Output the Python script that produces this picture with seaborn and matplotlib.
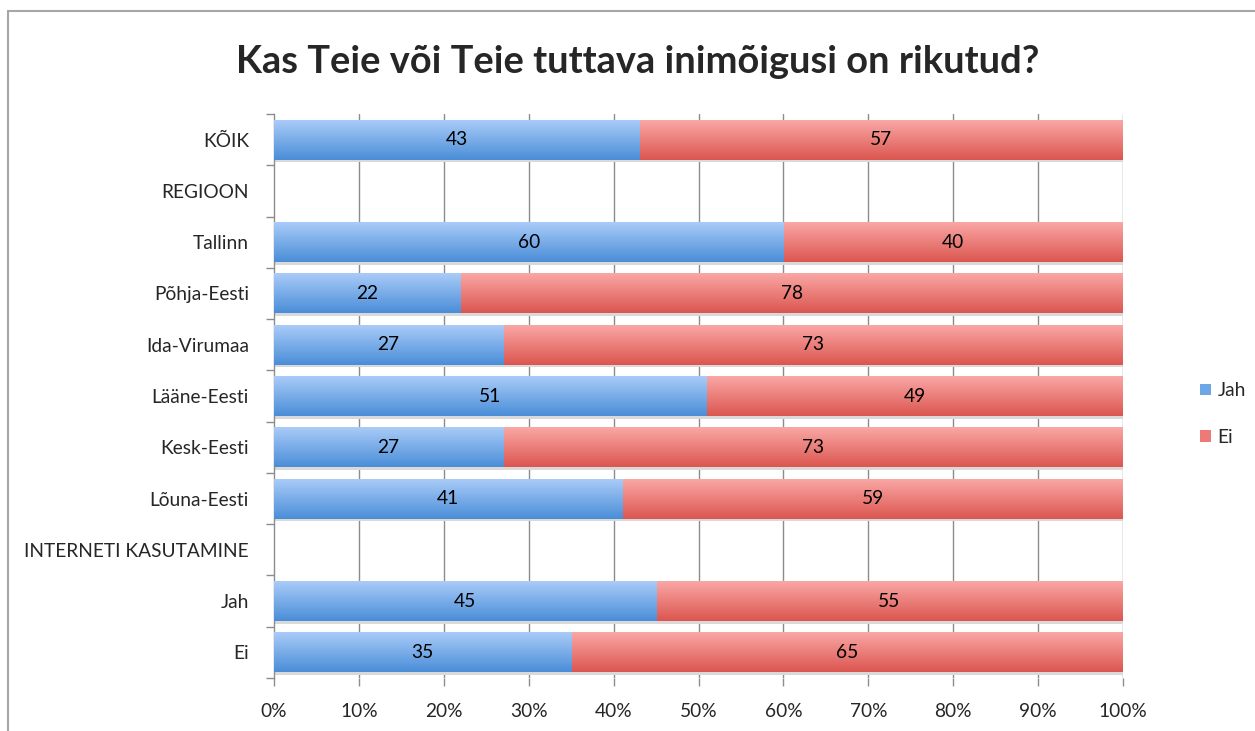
import numpy as np
import pandas as pd
import matplotlib
matplotlib.use("Agg")
import matplotlib.pyplot as plt
import seaborn as sns
from matplotlib.colors import to_rgb
from matplotlib.patches import Rectangle, Patch

categories = ["KÕIK", "REGIOON", "Tallinn", "Põhja-Eesti", "Ida-Virumaa", "Lääne-Eesti",
              "Kesk-Eesti", "Lõuna-Eesti", "INTERNETI KASUTAMINE", "Jah", "Ei"]
jah = [43, np.nan, 60, 22, 27, 51, 27, 41, np.nan, 45, 35]
ei = [57, np.nan, 40, 78, 73, 49, 73, 59, np.nan, 55, 65]
xticks = [0, 10, 20, 30, 40, 50, 60, 70, 80, 90, 100]
xticklabels = [f"{v}%" for v in xticks]
title = "Kas Teie või Teie tuttava inimõigusi on rikutud?"

sns.set_theme(style="white")
plt.rcParams['font.family'] = ['Lato', 'DejaVu Sans']

df = pd.DataFrame({"cat": categories, "Jah": jah, "Ei": ei})
df["total"] = df["Jah"] + df["Ei"]

fig = plt.figure(figsize=(12.55, 7.31), dpi=100)
ax = fig.add_axes([274/1255, 1-678/731, (1123-274)/1255, (678-114)/731])

blue_top, blue_bot = "#a9cbf8", "#4a8ed8"
red_top, red_bot = "#f9a7a5", "#dc5650"
FS = 13.8

sns.barplot(data=df, y="cat", x="total", orient="h", color=red_bot, width=0.78,
            order=categories, ax=ax, zorder=3, linewidth=0)
n_red = len(ax.patches)
sns.barplot(data=df, y="cat", x="Jah", orient="h", color=blue_bot, width=0.78,
            order=categories, ax=ax, zorder=4, linewidth=0)

def grad(c1, c2, n=64):
    a = np.array(to_rgb(c1)); b = np.array(to_rgb(c2))
    t = np.linspace(0, 1, n)[:, None]
    return (a * (1 - t) + b * t)[:, None, :]

gb = grad(blue_top, blue_bot)
gr = grad(red_top, red_bot)
for i, p in enumerate(list(ax.patches)):
    w = p.get_width()
    if not np.isfinite(w) or w == 0:
        continue
    x0, y0, h = p.get_x(), p.get_y(), p.get_height()
    img = gr if i < n_red else gb
    # subtle shadow under bar
    ax.add_patch(Rectangle((x0, y0 + h), w, 0.05, facecolor="#d9d9d9", edgecolor="none",
                           zorder=2.5))
    ax.imshow(img, extent=(x0, x0 + w, y0 + h, y0), aspect="auto",
              zorder=3.5 if i < n_red else 4.5, interpolation="bilinear")

# labels
for i, (j, e) in enumerate(zip(jah, ei)):
    if np.isfinite(j):
        ax.text(j / 2, i, f"{j:g}", ha="center", va="center", fontsize=FS, color="black", zorder=6)
        ax.text(j + e / 2, i, f"{e:g}", ha="center", va="center", fontsize=FS, color="black", zorder=6)

ax.set_xlim(0, 100)
ax.set_ylim(len(categories) - 0.5, -0.5)
ax.set_xlabel("")
ax.set_ylabel("")
ax.set_xticks(xticks)
ax.set_xticklabels(xticklabels, fontsize=FS)
ax.set_yticks(range(len(categories)))
ax.set_yticklabels(categories, fontsize=FS)
ax.set_yticks(np.arange(-0.5, len(categories), 1), minor=True)
ax.tick_params(axis="y", which="major", length=0, pad=18)
ax.tick_params(axis="y", which="minor", length=6, width=1, color="#8c8c8c", direction="out", left=True)
ax.tick_params(axis="x", which="major", length=6, width=1, color="#8c8c8c", direction="out", bottom=True, pad=12)
for v in xticks[1:]:
    ax.axvline(v, color="#8c8c8c", lw=1, zorder=1)
for s in ["top", "bottom", "right"]:
    ax.spines[s].set_visible(False)
ax.spines["left"].set_color("#8c8c8c")
ax.spines["left"].set_linewidth(1)
ax.grid(False)

fig.text(638/1255, 1 - 62/731, title, ha="center", va="center", fontsize=27.4, fontweight="bold")

handles = [Patch(facecolor="#6fa6e6", edgecolor="none"), Patch(facecolor="#ec7b77", edgecolor="none")]
fig.legend(handles, ["Jah", "Ei"], loc="center left", bbox_to_anchor=(1183/1255, 1 - 414/731),
           frameon=False, fontsize=FS, handlelength=0.55, handleheight=0.55, handletextpad=0.35,
           labelspacing=1.55)

fig.patches.append(Rectangle((8/1255, -0.1), 1.2, 1 - 11/731 + 0.1, transform=fig.transFigure,
                             fill=False, edgecolor="#a6a6a6", lw=1.5, zorder=0))

fig.savefig("out.png", dpi=100)
